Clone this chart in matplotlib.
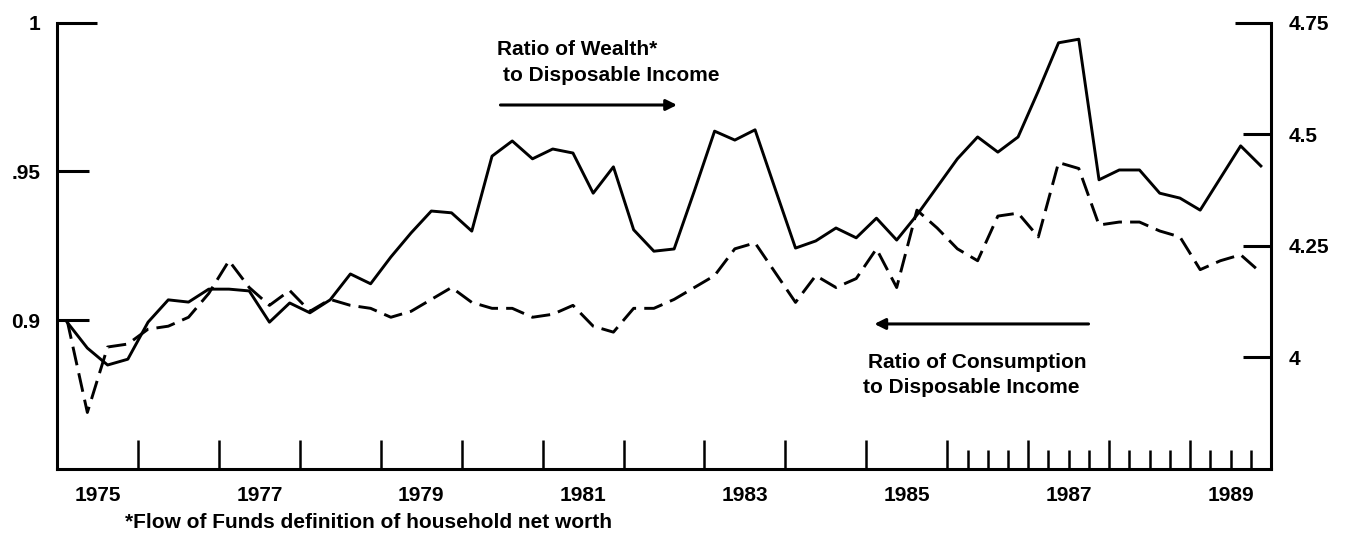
import matplotlib
matplotlib.use('Agg')
import matplotlib.pyplot as plt
import numpy as np
import pandas as pd

plt.rcParams['font.family'] = ['Liberation Sans', 'DejaVu Sans']
plt.rcParams['font.weight'] = 'bold'
plt.rcParams['font.size'] = 15

# quarterly data, 1975Q1 - 1989Q4
quarters = pd.period_range('1975Q1', '1989Q4', freq='Q')

# ratio of consumption to disposable income (left scale, dashed)
consumption = [0.900, 0.869, 0.891, 0.892, 0.897, 0.898, 0.901, 0.909, 0.920, 0.911,
               0.905, 0.910, 0.903, 0.907, 0.905, 0.904, 0.901, 0.903, 0.907, 0.911,
               0.906, 0.904, 0.904, 0.901, 0.902, 0.905, 0.898, 0.896, 0.904, 0.904,
               0.907, 0.911, 0.915, 0.924, 0.926, 0.916, 0.906, 0.915, 0.911, 0.914,
               0.924, 0.911, 0.937, 0.931, 0.924, 0.920, 0.935, 0.936, 0.928, 0.953,
               0.951, 0.932, 0.933, 0.933, 0.930, 0.928, 0.917, 0.920, 0.922, 0.916]

# ratio of wealth to disposable income (right scale, solid)
wealth = [4.079, 4.021, 3.983, 3.996, 4.079, 4.129, 4.124, 4.153, 4.153, 4.149,
          4.079, 4.122, 4.100, 4.129, 4.187, 4.165, 4.225, 4.279, 4.328, 4.324,
          4.283, 4.451, 4.485, 4.445, 4.467, 4.458, 4.368, 4.427, 4.286, 4.238,
          4.243, 4.373, 4.507, 4.487, 4.510, 4.377, 4.245, 4.261, 4.290, 4.268,
          4.312, 4.263, 4.319, 4.382, 4.445, 4.494, 4.460, 4.494, 4.597, 4.705,
          4.713, 4.398, 4.420, 4.420, 4.368, 4.357, 4.330, 4.402, 4.474, 4.429]

left_ticks = [0.9, 0.95, 1.0]
left_labels = ['0.9', '.95', '1']
right_ticks = [4.0, 4.25, 4.5, 4.75]
right_labels = ['4', '4.25', '4.5', '4.75']
year_labels = [1975, 1977, 1979, 1981, 1983, 1985, 1987, 1989]

# plot quarters at mid-quarter
t = quarters.year + (quarters.quarter - 0.5) / 4.0

fig = plt.figure(figsize=(13.45, 5.36), dpi=100)
ax = fig.add_axes([57/1345, 67/536, 1214/1345, 446.3/536])
ax2 = ax.twinx()

ax.plot(t, consumption, color='black', lw=2.1, dashes=(6.5, 2.8))
ax2.plot(t, wealth, color='black', lw=2.1)

ax.set_xlim(1975, 1990)
ax.set_ylim(0.85, 1.0)
ax2.set_ylim(3.75, 4.75)

for a in (ax, ax2):
    a.spines['top'].set_visible(False)
    for s in a.spines.values():
        s.set_linewidth(2.2)
ax.spines['right'].set_visible(False)
ax2.spines['left'].set_visible(False)
ax2.spines['bottom'].set_visible(False)

ax.set_yticks(left_ticks)
ax.set_yticklabels(left_labels)
ax.tick_params(axis='y', direction='in', length=23, width=2.2, pad=12)
ax2.set_yticks(right_ticks)
ax2.set_yticklabels(right_labels)
ax2.tick_params(axis='y', direction='in', length=20, width=2.2, pad=13)
# top ticks are drawn a bit longer
ax.yaxis.get_major_ticks()[-1].tick1line.set_markersize(29)
ax2.yaxis.get_major_ticks()[-1].tick2line.set_markersize(26)

# year boundaries long, quarters from 1986 short
ax.set_xticks(np.arange(1976, 1990))
ax.set_xticks(np.arange(1986.25, 1990, 0.25), minor=True)
ax.set_xticklabels([])
ax.tick_params(axis='x', which='major', direction='in', length=21, width=1.8)
ax.tick_params(axis='x', which='minor', direction='in', length=14, width=1.8)

tr = ax.get_xaxis_transform()
for yr in year_labels:
    ax.text(yr + 0.5, -0.06, str(yr), transform=tr, ha='center', va='center')

ax.text(0.3624, 0.939, 'Ratio of Wealth*', transform=ax.transAxes, va='center')
ax.text(0.367, 0.8806, 'to Disposable Income', transform=ax.transAxes, va='center')
ax.annotate('', xy=(0.513, 0.8156), xytext=(0.363, 0.8156), xycoords='axes fraction',
            arrowprops=dict(arrowstyle='-|>', color='black', lw=2.2, mutation_scale=16))

ax.text(0.668, 0.2397, 'Ratio of Consumption', transform=ax.transAxes, va='center')
ax.text(0.664, 0.1815, 'to Disposable Income', transform=ax.transAxes, va='center')
ax.annotate('', xy=(0.671, 0.325), xytext=(0.852, 0.325), xycoords='axes fraction',
            arrowprops=dict(arrowstyle='-|>', color='black', lw=2.2, mutation_scale=16))

fig.text(125/1345, 14/536, '*Flow of Funds definition of household net worth', va='center')

fig.savefig('out.png', dpi=100)
